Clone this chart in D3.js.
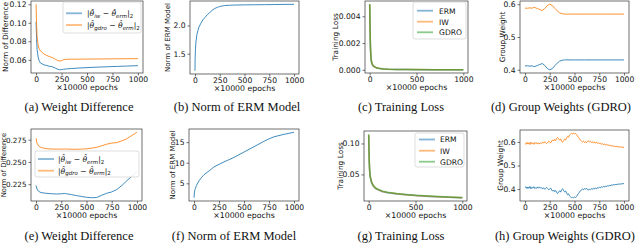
<!DOCTYPE html>
<html>
<head>
<meta charset="utf-8">
<script src="https://cdn.jsdelivr.net/npm/d3@7"></script>
<style>
  body { margin: 0; background: #fff; }
  svg { display: block; }
  text { font-family: "DejaVu Sans", sans-serif; fill: #111; }
</style>
</head>
<body>
<svg id="fig" width="640" height="243"></svg>
<script>
// ---- data ----
var xTicksFine = [0, 250, 500, 750, 1000];
var xTicksCoarse = [0, 500, 1000];

// (a) weight difference, first run
var epochsA = [0, 5, 10, 20, 30, 40, 60, 80, 100, 130, 160, 190, 210, 230, 250, 270, 300, 350, 400, 500, 600, 700, 800, 900, 1000];
var iwDiffA = [0.101, 0.082, 0.071, 0.063, 0.059, 0.057, 0.0555, 0.0545, 0.054, 0.053, 0.0525, 0.051, 0.050, 0.0493, 0.0495, 0.0498, 0.0502, 0.0506, 0.0510, 0.0516, 0.0521, 0.0525, 0.0529, 0.0533, 0.0537];
var gdroDiffA = [0.120, 0.097, 0.085, 0.076, 0.072, 0.070, 0.068, 0.066, 0.065, 0.0635, 0.0625, 0.0605, 0.0593, 0.0587, 0.0592, 0.0601, 0.0606, 0.0607, 0.0607, 0.0608, 0.0609, 0.0610, 0.0611, 0.0612, 0.0613];
var yTicksA = [0.06, 0.08, 0.10, 0.12];

// (b) norm of ERM model, first run
var epochsB = [0, 2, 5, 10, 20, 30, 40, 60, 80, 100, 125, 150, 175, 200, 225, 250, 275, 300, 350, 400, 500, 600, 700, 800, 900, 1000];
var ermNormB = [1.20, 1.42, 1.58, 1.71, 1.84, 1.91, 1.97, 2.04, 2.10, 2.14, 2.19, 2.23, 2.27, 2.30, 2.32, 2.335, 2.345, 2.352, 2.358, 2.361, 2.364, 2.366, 2.368, 2.370, 2.372, 2.374];
var yTicksB = [1.5, 2.0];

// (c) training loss, first run
var epochsC = [0, 2, 4, 6, 8, 10, 15, 20, 30, 40, 60, 80, 100, 150, 200, 300, 400, 500, 700, 1000];
var ermLossC = [0.0049, 0.0040, 0.0031, 0.0023, 0.0017, 0.0013, 0.00080, 0.00055, 0.00036, 0.00027, 0.00018, 0.00013, 0.00010, 0.00006, 0.00004, 0.000025, 0.000018, 0.000014, 0.000010, 0.000007];
var iwLossC = [0.0049, 0.0041, 0.0032, 0.0024, 0.0018, 0.0014, 0.00085, 0.00058, 0.00038, 0.00028, 0.00019, 0.00014, 0.00011, 0.000065, 0.000045, 0.000028, 0.00002, 0.000015, 0.000011, 0.000008];
var gdroLossC = [0.0049, 0.0041, 0.0032, 0.0024, 0.0018, 0.0014, 0.00086, 0.00059, 0.00039, 0.00029, 0.0002, 0.00014, 0.00011, 0.000066, 0.000046, 0.000029, 0.00002, 0.000016, 0.000011, 0.000008];
var yTicksC = [0, 0.002, 0.004];

// (d) group weights, first run
var epochsD = [0, 25, 50, 75, 90, 100, 125, 150, 175, 200, 225, 250, 275, 300, 325, 350, 375, 400, 500, 600, 700, 800, 900, 1000];
var group0D = [0.412, 0.412, 0.411, 0.412, 0.409, 0.410, 0.413, 0.416, 0.419, 0.413, 0.404, 0.400, 0.403, 0.412, 0.420, 0.426, 0.429, 0.430, 0.430, 0.430, 0.430, 0.430, 0.430, 0.430];
var group1D = [0.588, 0.588, 0.589, 0.588, 0.591, 0.590, 0.587, 0.584, 0.581, 0.587, 0.596, 0.600, 0.597, 0.588, 0.580, 0.574, 0.571, 0.570, 0.570, 0.570, 0.570, 0.570, 0.570, 0.570];
var yTicksD = [0.4, 0.5, 0.6];

// (e) weight difference, second run
var epochsE = [0, 10, 25, 50, 100, 150, 200, 250, 280, 300, 350, 400, 450, 500, 550, 600, 650, 700, 750, 800, 850, 900, 950, 1000];
var iwDiffE = [0.2235, 0.2195, 0.2170, 0.2155, 0.2148, 0.2143, 0.2140, 0.2142, 0.2146, 0.2143, 0.2133, 0.2122, 0.2112, 0.2103, 0.2098, 0.2100, 0.2125, 0.2148, 0.2163, 0.2190, 0.2235, 0.2290, 0.2340, 0.2392];
var gdroDiffE = [0.2765, 0.2710, 0.2680, 0.2662, 0.2650, 0.2646, 0.2645, 0.2644, 0.2646, 0.2645, 0.2643, 0.2643, 0.2645, 0.2648, 0.2655, 0.2665, 0.2682, 0.2700, 0.2712, 0.2718, 0.2738, 0.2762, 0.2798, 0.2834];
var yTicksE = [0.225, 0.250, 0.275];

// (f) norm of ERM model, second run
var epochsF = [0, 5, 10, 25, 50, 75, 100, 150, 200, 250, 300, 400, 500, 600, 700, 750, 800, 900, 1000];
var ermNormF = [1.5, 2.9, 3.5, 4.5, 5.6, 6.4, 7.1, 8.0, 9.0, 9.6, 10.2, 11.3, 12.6, 13.9, 15.2, 15.8, 16.3, 16.9, 17.4];
var yTicksF = [5, 10, 15];

// (g) training loss, second run
var epochsG = [0, 3, 6, 10, 15, 20, 30, 40, 50, 75, 100, 150, 200, 300, 400, 500, 600, 700, 800, 900, 1000];
var ermLossG = [0.113, 0.088, 0.070, 0.056, 0.048, 0.043, 0.037, 0.034, 0.031, 0.027, 0.025, 0.022, 0.0205, 0.0185, 0.0170, 0.0158, 0.0149, 0.0141, 0.0134, 0.0128, 0.0122];
var iwLossG = [0.114, 0.089, 0.071, 0.057, 0.049, 0.044, 0.038, 0.0345, 0.0315, 0.0275, 0.0255, 0.0225, 0.021, 0.0189, 0.0173, 0.0161, 0.0152, 0.0144, 0.0137, 0.0131, 0.0125];
var gdroLossG = [0.115, 0.090, 0.072, 0.058, 0.0495, 0.0445, 0.0385, 0.035, 0.032, 0.028, 0.026, 0.023, 0.0213, 0.0192, 0.0176, 0.0163, 0.0154, 0.0146, 0.0139, 0.0133, 0.0127];
var yTicksG = [0.05, 0.10];

// (h) group weights, second run (every 10 x 10000 epochs)
var epochsH = d3.range(0, 1001, 10);
var group0H = [0.406, 0.410, 0.402, 0.409, 0.403, 0.411, 0.401, 0.408, 0.404, 0.410, 0.402, 0.407, 0.403, 0.409, 0.405, 0.408, 0.404, 0.406, 0.401, 0.405,
  0.399, 0.403, 0.407, 0.402, 0.397, 0.400, 0.404, 0.396, 0.391, 0.396, 0.389, 0.394, 0.385, 0.381, 0.388, 0.393, 0.387, 0.397, 0.401, 0.394,
  0.388, 0.392, 0.383, 0.376, 0.380, 0.371, 0.367, 0.364, 0.365, 0.363, 0.366, 0.364, 0.368, 0.374, 0.381, 0.387, 0.393, 0.396, 0.400, 0.397,
  0.402, 0.399, 0.404, 0.398, 0.395, 0.400, 0.397, 0.402, 0.398, 0.404, 0.400, 0.405, 0.401, 0.406, 0.403, 0.408, 0.405, 0.410, 0.407, 0.411,
  0.409, 0.412, 0.410, 0.414, 0.412, 0.416, 0.414, 0.417, 0.416, 0.419, 0.417, 0.420, 0.418, 0.421, 0.420, 0.422, 0.420, 0.423, 0.421, 0.424, 0.422];
var group1H = [0.594, 0.590, 0.598, 0.591, 0.597, 0.589, 0.599, 0.592, 0.596, 0.590, 0.598, 0.593, 0.597, 0.591, 0.595, 0.592, 0.596, 0.594, 0.599, 0.595,
  0.601, 0.597, 0.593, 0.598, 0.603, 0.600, 0.596, 0.604, 0.609, 0.604, 0.611, 0.606, 0.615, 0.619, 0.612, 0.607, 0.613, 0.603, 0.599, 0.606,
  0.612, 0.608, 0.617, 0.624, 0.620, 0.629, 0.633, 0.636, 0.635, 0.637, 0.634, 0.636, 0.632, 0.626, 0.619, 0.613, 0.607, 0.604, 0.600, 0.603,
  0.598, 0.601, 0.596, 0.602, 0.605, 0.600, 0.603, 0.598, 0.602, 0.596, 0.600, 0.595, 0.599, 0.594, 0.597, 0.592, 0.595, 0.590, 0.593, 0.589,
  0.591, 0.588, 0.590, 0.586, 0.588, 0.584, 0.586, 0.583, 0.584, 0.581, 0.583, 0.580, 0.582, 0.579, 0.580, 0.578, 0.580, 0.577, 0.579, 0.576, 0.578];
var yTicksH = [0.4, 0.5, 0.6];

var captions = ["(a) Weight Difference", "(b) Norm of ERM Model", "(c) Training Loss", "(d) Group Weights (GDRO)",
                "(e) Weight Difference", "(f) Norm of ERM Model", "(g) Training Loss", "(h) Group Weights (GDRO)"];

var blue = "#1f77b4", orange = "#ff7f0e", green = "#2ca02c";

// math labels for the weight-difference legends
var iwLabel = [["|", 0], ["θ̂", 1], ["iw", 2], [" − ", 0], ["θ̂", 1], ["erm", 2], ["|", 0], ["2", 3]];
var gdroLabel = [["|", 0], ["θ̂", 1], ["gdro", 2], [" − ", 0], ["θ̂", 1], ["erm", 2], ["|", 0], ["2", 3]];

// ---- layout ----
var panels = [
  {l: 31, r: 143, t: 1, b: 73, ylx: 5.5, ylabel: "Norm of Difference", yticks: yTicksA, fmt: ".2f", xticks: xTicksFine,
   capx: 79, capy: 111,
   series: [{x: epochsA, y: iwDiffA, c: blue, label: iwLabel}, {x: epochsA, y: gdroDiffA, c: orange, label: gdroLabel}],
   legend: {x: 63, y: 2, w: 78, h: 31, sx: 66, tx: 87, rows: [13.3, 25]}},
  {l: 190, r: 299, t: 1, b: 74, ylx: 167, ylfs: 7, ylabel: "Norm of ERM Model", yticks: yTicksB, fmt: ".1f", xticks: xTicksFine,
   capx: 237, capy: 111,
   series: [{x: epochsB, y: ermNormB, c: blue}]},
  {l: 365, r: 468, t: 1, b: 73, ylx: 335, ylabel: "Training Loss", yticks: yTicksC, fmt: ".3f", xticks: xTicksCoarse,
   capx: 401, capy: 111, alpha: 0.6, lw: 1.5,
   series: [{x: epochsC, y: ermLossC, c: blue, label: "ERM"}, {x: epochsC, y: iwLossC, c: orange, label: "IW"}, {x: epochsC, y: gdroLossC, c: green, label: "GDRO"}],
   legend: {x: 413, y: 2, w: 53, h: 37, sx: 417, tx: 439, rows: [10.7, 21.7, 32.3]}},
  {l: 520, r: 629, t: 1, b: 73, ylx: 502, ylabel: "Group Weight", yticks: yTicksD, fmt: ".1f", xticks: xTicksFine,
   capx: 561, capy: 111,
   series: [{x: epochsD, y: group0D, c: blue}, {x: epochsD, y: group1D, c: orange}]},
  {l: 31, r: 142, t: 129, b: 201, ylx: 3, ylfs: 6.8, ytfs: 7.2, ylabel: "Norm of Difference", yticks: yTicksE, fmt: ".3f", xticks: xTicksFine,
   capx: 79, capy: 239.5,
   series: [{x: epochsE, y: iwDiffE, c: blue, label: iwLabel}, {x: epochsE, y: gdroDiffE, c: orange, label: gdroLabel}],
   legend: {x: 35, y: 151, w: 104, h: 26, sx: 38, tx: 58, rows: [159, 170.7]}},
  {l: 189, r: 299, t: 129, b: 201, ylx: 172, ylfs: 7, ylabel: "Norm of ERM Model", yticks: yTicksF, fmt: "d", xticks: xTicksFine,
   capx: 234, capy: 239.5,
   series: [{x: epochsF, y: ermNormF, c: blue}]},
  {l: 364, r: 467, t: 131, b: 201, ylx: 340, ylabel: "Training Loss", yticks: yTicksG, fmt: ".2f", xticks: xTicksCoarse,
   capx: 401, capy: 239.5, alpha: 0.6, lw: 1.5,
   series: [{x: epochsG, y: ermLossG, c: blue, label: "ERM"}, {x: epochsG, y: iwLossG, c: orange, label: "IW"}, {x: epochsG, y: gdroLossG, c: green, label: "GDRO"}],
   legend: {x: 415, y: 133, w: 49, h: 34, sx: 419, tx: 440, rows: [139.5, 150.7, 161.7]}},
  {l: 520, r: 629, t: 130, b: 201, ylx: 500, ylabel: "Group Weight", yticks: yTicksH, fmt: ".1f", xticks: xTicksFine,
   capx: 565, capy: 239.5,
   series: [{x: epochsH, y: group0H, c: blue}, {x: epochsH, y: group1H, c: orange}]}
];

var svg = d3.select("#fig");

function mathText(sel, parts) {
    var sub = false;
    parts.forEach(function (p) {
        var ts = sel.append("tspan").text(p[0]);
        if (p[1] === 1) ts.style("font-style", "italic");
        if (p[1] >= 2) {
            ts.style("font-size", "5.5px").attr("dy", sub ? 0 : 1.7);
            if (p[1] === 2) ts.style("font-style", "italic");
        } else if (sub) {
            // back to the baseline after a subscript
            ts.attr("dy", -1.7);
        }
        sub = p[1] >= 2;
    });
}

function drawPanel(p, i) {
    var g = svg.append("g");

    var x = d3.scaleLinear()
        .domain([-50, 1050])
        .range([p.l, p.r]);

    var ext = d3.extent(d3.merge(p.series.map(function (s) { return s.y; })));
    var pad = (ext[1] - ext[0]) * 0.05;
    var y = d3.scaleLinear()
        .domain([ext[0] - pad, ext[1] + pad])
        .range([p.b, p.t]);

    var line = function (s) {
        return d3.line()
            .x(function (d, k) { return x(s.x[k]); })
            .y(function (d) { return y(d); })(s.y);
    };

    p.series.forEach(function (s) {
        g.append("path")
            .attr("d", line(s))
            .style("fill", "none")
            .style("stroke", s.c)
            .style("stroke-width", p.lw || 1)
            .style("stroke-opacity", p.alpha || 0.85)
            .style("stroke-linejoin", "round");
    });

    // frame
    g.append("rect")
        .attr("x", p.l).attr("y", p.t)
        .attr("width", p.r - p.l).attr("height", p.b - p.t)
        .style("fill", "none")
        .style("stroke", "#333")
        .style("stroke-width", 0.7);

    var xa = g.append("g")
        .attr("transform", "translate(0," + p.b + ")")
        .call(d3.axisBottom(x).tickValues(p.xticks).tickSize(2.5).tickPadding(1.5).tickFormat(d3.format("d")));
    var ya = g.append("g")
        .attr("transform", "translate(" + p.l + ",0)")
        .call(d3.axisLeft(y).tickValues(p.yticks).tickSize(2.5).tickPadding(2).tickFormat(d3.format(p.fmt)));
    [xa, ya].forEach(function (a) {
        a.select(".domain").remove();
        a.selectAll("line").style("stroke", "#333").style("stroke-width", 0.7);
        a.selectAll("text").style("font-size", "7.6px").style("font-family", "DejaVu Sans").style("fill", "#111");
    });
    if (p.ytfs) ya.selectAll("text").style("font-size", p.ytfs + "px");

    g.append("text")
        .attr("x", (p.l + p.r) / 2)
        .attr("y", p.b + 17.3)
        .attr("text-anchor", "middle")
        .style("font-size", "7.8px")
        .text("×10000 epochs");

    g.append("text")
        .attr("transform", "translate(" + (p.ylx + 2.8) + "," + ((p.t + p.b) / 2) + ") rotate(-90)")
        .attr("text-anchor", "middle")
        .style("font-size", (p.ylfs || 7.4) + "px")
        .text(p.ylabel);

    if (p.legend) {
        var L = p.legend;
        g.append("rect")
            .attr("x", L.x).attr("y", L.y)
            .attr("width", L.w).attr("height", L.h)
            .attr("rx", 2)
            .style("fill", "#fff").style("fill-opacity", 0.85)
            .style("stroke", "#d0d0d0").style("stroke-width", 0.7);
        p.series.forEach(function (s, k) {
            var ry = L.rows[k];
            g.append("line")
                .attr("x1", L.sx).attr("x2", L.sx + 16)
                .attr("y1", ry).attr("y2", ry)
                .style("stroke", s.c)
                .style("stroke-width", 1.8)
                .style("stroke-opacity", 0.55);
            var t = g.append("text")
                .attr("x", L.tx)
                .attr("y", ry + 2.8)
                .style("font-size", "7.6px");
            if (typeof s.label === "string") t.text(s.label);
            else mathText(t, s.label);
        });
    }

    svg.append("text")
        .attr("x", p.capx)
        .attr("y", p.capy)
        .attr("text-anchor", "middle")
        .style("font-family", "Liberation Serif")
        .style("font-size", "12.5px")
        .text(captions[i]);
}

panels.forEach(drawPanel);
</script>
</body>
</html>
